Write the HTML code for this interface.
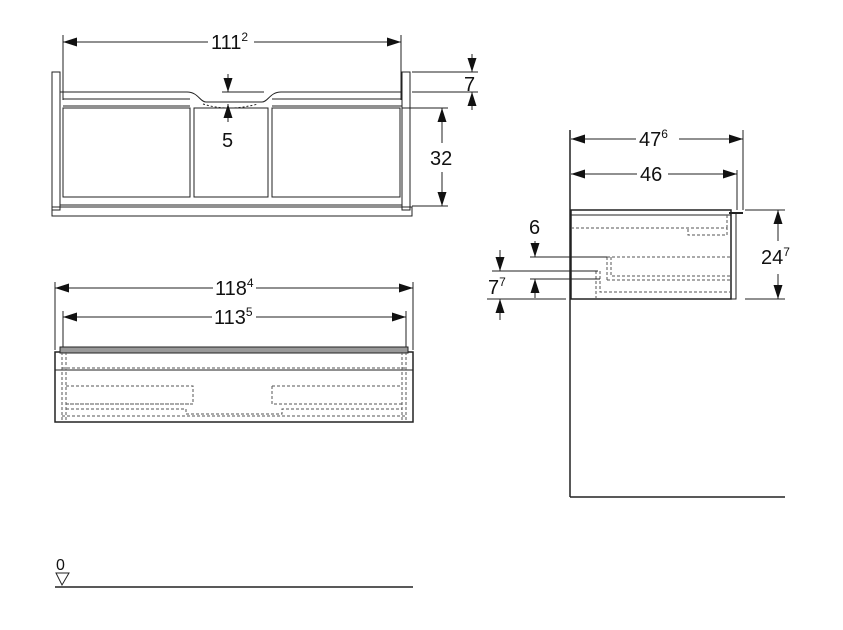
<!DOCTYPE html>
<html><head><style>
html,body{margin:0;padding:0;background:#fff}
svg{display:block}
text{font-family:"Liberation Sans",sans-serif;fill:#111}
</style></head><body>
<svg width="843" height="630" viewBox="0 0 843 630" xmlns="http://www.w3.org/2000/svg">
<defs>
<marker id="a" viewBox="0 0 14 10" refX="14" refY="5" markerWidth="14" markerHeight="10" markerUnits="userSpaceOnUse" orient="auto-start-reverse"><path d="M0,0.5 L14,5 L0,9.5 z" fill="#111"/></marker>
</defs>
<g stroke="#222" fill="none" stroke-width="1">
<!-- TOP VIEW -->
<line x1="63" y1="35" x2="63" y2="100"/><line x1="401" y1="35" x2="401" y2="100"/>
<line x1="63" y1="42" x2="208" y2="42" marker-start="url(#a)"/><line x1="254" y1="42" x2="401" y2="42" marker-end="url(#a)"/>
<rect x="52" y="72" width="8" height="138"/><rect x="402" y="72" width="8" height="138"/>
<rect x="52" y="207" width="360" height="9"/>
<line x1="60" y1="205" x2="402" y2="205"/>
<path d="M60,92 H187 C198,92 200,102 206,102 H262 C268,102 270,92 281,92 H402"/>
<path d="M63,99 H190 M272,99 H402 M63,106 H190 M272,106 H402"/>
<path d="M203,104 Q228,112 258,104" stroke-dasharray="2,2"/>
<rect x="63" y="108" width="127" height="89"/><rect x="194" y="108" width="74" height="89"/><rect x="272" y="108" width="128" height="89"/>
<line x1="412" y1="72" x2="478" y2="72"/><line x1="412" y1="92" x2="478" y2="92"/>
<line x1="472" y1="54" x2="472" y2="72" marker-end="url(#a)"/><line x1="472" y1="110" x2="472" y2="92" marker-end="url(#a)"/>
<line x1="222" y1="92" x2="264" y2="92"/>
<line x1="228" y1="74" x2="228" y2="92" marker-end="url(#a)"/><line x1="228" y1="122" x2="228" y2="104" marker-end="url(#a)"/>
<line x1="402" y1="108" x2="448" y2="108"/><line x1="412" y1="206" x2="448" y2="206"/>
<line x1="442" y1="108" x2="442" y2="143" marker-start="url(#a)"/><line x1="442" y1="172" x2="442" y2="206" marker-end="url(#a)"/>
<!-- FRONT VIEW -->
<line x1="55" y1="282" x2="55" y2="350"/><line x1="413" y1="282" x2="413" y2="350"/>
<line x1="63" y1="311" x2="63" y2="350"/><line x1="406" y1="311" x2="406" y2="350"/>
<line x1="55" y1="288" x2="213" y2="288" marker-start="url(#a)"/><line x1="256" y1="288" x2="413" y2="288" marker-end="url(#a)"/>
<line x1="63" y1="317" x2="212" y2="317" marker-start="url(#a)"/><line x1="256" y1="317" x2="406" y2="317" marker-end="url(#a)"/>
<rect x="55" y="352" width="358" height="70" stroke-width="1.5"/>
<rect x="60" y="347" width="348" height="6" fill="#999"/>
<line x1="55" y1="370" x2="413" y2="370"/>
<g stroke-dasharray="3,2" stroke="#555">
<path d="M62,368 H406 M62,352 V420 M66,352 V420 M402,352 V420 M406,352 V420"/>
<path d="M66,386 H193 V404 H66 M272,386 H402 M272,386 V404 H402"/>
<path d="M66,404 H193 M66,409 H186 V414 H282 V409 H402"/>
<path d="M62,416 H406"/>
</g>
<!-- SIDE VIEW -->
<line x1="570" y1="130" x2="570" y2="497" stroke-width="1.5"/>
<line x1="570" y1="497" x2="785" y2="497" stroke-width="1.5"/>
<line x1="743" y1="130" x2="743" y2="210"/><line x1="737" y1="170" x2="737" y2="210"/>
<line x1="571" y1="139" x2="636" y2="139" marker-start="url(#a)"/><line x1="679" y1="139" x2="743" y2="139" marker-end="url(#a)"/>
<line x1="571" y1="174" x2="637" y2="174" marker-start="url(#a)"/><line x1="668" y1="174" x2="737" y2="174" marker-end="url(#a)"/>
<rect x="571" y="210" width="160" height="89" stroke-width="1.5"/>
<line x1="571" y1="215" x2="731" y2="215"/>
<rect x="731" y="213" width="5" height="86"/>
<line x1="729" y1="213" x2="743" y2="213" stroke-width="2"/>
<g stroke-dasharray="3,2" stroke="#555">
<path d="M571,228 H727 V235 H688 V228 M727,215 V228"/>
<path d="M607,257 H730 M607,257 V280 M611,257 V276 H730 M607,280 H730"/>
<path d="M596,271 V298 M600,271 V292 H730"/>
</g>
<line x1="745" y1="210" x2="785" y2="210"/><line x1="745" y1="299" x2="785" y2="299"/>
<line x1="778" y1="210" x2="778" y2="241" marker-start="url(#a)"/><line x1="778" y1="274" x2="778" y2="299" marker-end="url(#a)"/>
<line x1="530" y1="257" x2="607" y2="257"/><line x1="492" y1="271" x2="598" y2="271"/><line x1="530" y1="279" x2="600" y2="279"/>
<line x1="487" y1="299" x2="566" y2="299"/>
<line x1="535" y1="241" x2="535" y2="257" marker-end="url(#a)"/><line x1="535" y1="298" x2="535" y2="279" marker-end="url(#a)"/>
<line x1="500" y1="250" x2="500" y2="271" marker-end="url(#a)"/><line x1="500" y1="320" x2="500" y2="299" marker-end="url(#a)"/>
<!-- FLOOR -->
<path d="M56,573 H69 L62,585 Z"/>
<line x1="55" y1="587" x2="413" y2="587" stroke-width="1.5"/>
</g>
<g font-size="20">
<text x="211" y="49">111<tspan font-size="12" dy="-8">2</tspan></text>
<text x="464" y="91">7</text>
<text x="222" y="147">5</text>
<text x="430" y="165">32</text>
<text x="215" y="295">118<tspan font-size="12" dy="-8">4</tspan></text>
<text x="214" y="324">113<tspan font-size="12" dy="-8">5</tspan></text>
<text x="639" y="146">47<tspan font-size="12" dy="-8">6</tspan></text>
<text x="640" y="181">46</text>
<text x="761" y="264">24<tspan font-size="12" dy="-8">7</tspan></text>
<text x="529" y="234">6</text>
<text x="488" y="294">7<tspan font-size="12" dy="-8">7</tspan></text>
<text x="56" y="570" font-size="16">0</text>
</g>
</svg>
</body></html>
